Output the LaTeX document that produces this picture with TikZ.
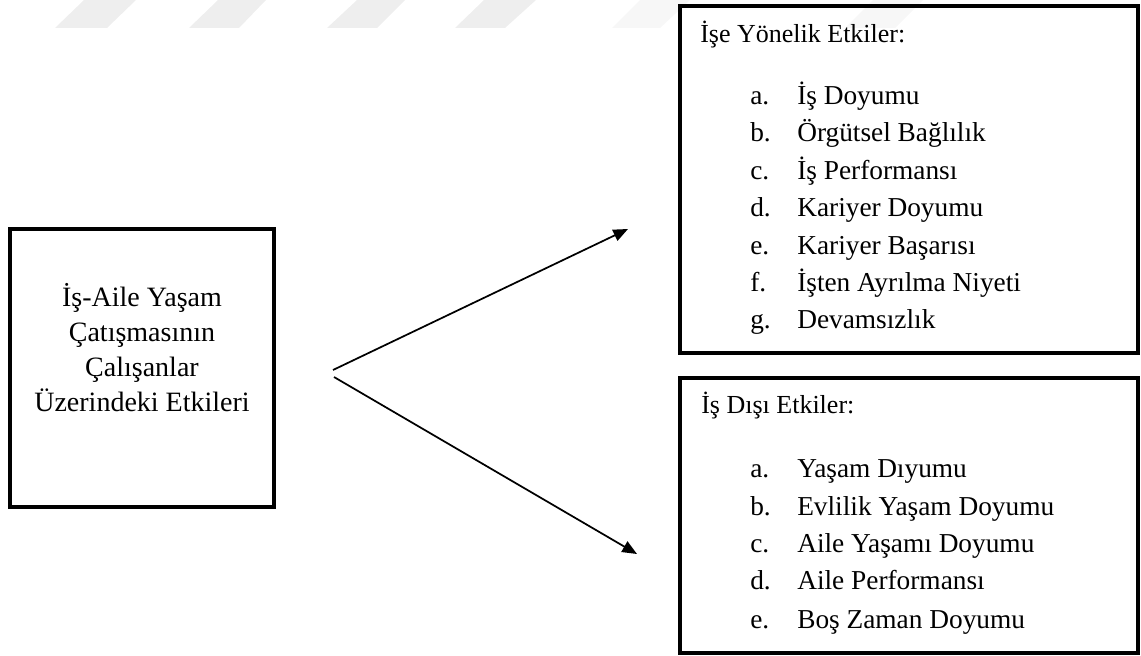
\documentclass[tikz,border=0pt]{standalone}
\usepackage{fontspec}
\setmainfont{Liberation Serif}
\usetikzlibrary{arrows.meta}
\definecolor{wm}{HTML}{EEEEEE}
\definecolor{wmfaint}{HTML}{F7F7F7}
\tikzset{
  box/.style={draw=black, line width=2.3pt, inner sep=0pt},
  srctxt/.style={anchor=base, inner sep=0pt, font=\fontsize{21}{25}\selectfont},
  headtxt/.style={anchor=base west, inner sep=0pt, font=\fontsize{19.5}{23}\selectfont},
  itemtxt/.style={anchor=base west, inner sep=0pt, font=\fontsize{20.5}{24}\selectfont},
  arr/.style={line width=1.3pt, -{Triangle[length=11pt,width=9pt]}},
  stripe/.style={fill=wm, draw=none},
  faintstripe/.style={fill=wmfaint, draw=none}
}
\begin{document}
\begin{tikzpicture}[x=0.75pt,y=-0.75pt]
\useasboundingbox (0,0) rectangle (1141,656);
% watermark stripes
\fill[stripe] (55,28) -- (107,28) -- (136,0) -- (84,0) -- cycle;
\fill[stripe] (189,28) -- (239,28) -- (266,0) -- (218,0) -- cycle;
\fill[stripe] (327,28) -- (377,28) -- (405,0) -- (357,0) -- cycle;
\fill[stripe] (455,28) -- (505,28) -- (536,0) -- (484,0) -- cycle;
\fill[faintstripe] (612,28) -- (660,28) -- (690,0) -- (640,0) -- cycle;
\fill[faintstripe] (845,28) -- (895,28) -- (923,0) -- (873,0) -- cycle;

% left box
\node[box, minimum width=198pt, minimum height=208.5pt] (src) at (142,368) {};
\node[srctxt] (src1) at (142,306) {İş-Aile Yaşam};
\node[srctxt] (src2) at (142,341) {Çatışmasının};
\node[srctxt] (src3) at (142,376) {Çalışanlar};
\node[srctxt] (src4) at (142,411) {Üzerindeki Etkileri};

% top right box
\node[box, minimum width=343.5pt, minimum height=260.25pt] (work) at (909,179.5) {};
\node[headtxt] (workh) at (700,43) {İşe Yönelik Etkiler:};
\node[itemtxt] (wa) at (750,105) {a.};
\node[itemtxt] (wat) at (797,105) {İş Doyumu};
\node[itemtxt] (wb) at (750,142) {b.};
\node[itemtxt] (wbt) at (797,142) {Örgütsel Bağlılık};
\node[itemtxt] (wc) at (750,179) {c.};
\node[itemtxt] (wct) at (797,179) {İş Performansı};
\node[itemtxt] (wd) at (750,216) {d.};
\node[itemtxt] (wdt) at (797,216) {Kariyer Doyumu};
\node[itemtxt] (we) at (750,254) {e.};
\node[itemtxt] (wet) at (797,254) {Kariyer Başarısı};
\node[itemtxt] (wf) at (750,291) {f.};
\node[itemtxt] (wft) at (797,291) {İşten Ayrılma Niyeti};
\node[itemtxt] (wg) at (750,328) {g.};
\node[itemtxt] (wgt) at (797,328) {Devamsızlık};

% bottom right box
\node[box, minimum width=343.5pt, minimum height=206.25pt] (nonwork) at (909,515.5) {};
\node[headtxt] (nonh) at (701,413) {İş Dışı Etkiler:};
\node[itemtxt] (na) at (750,477) {a.};
\node[itemtxt] (nat) at (797,477) {Yaşam Dıyumu};
\node[itemtxt] (nb) at (750,515) {b.};
\node[itemtxt] (nbt) at (797,515) {Evlilik Yaşam Doyumu};
\node[itemtxt] (nc) at (750,552) {c.};
\node[itemtxt] (nct) at (797,552) {Aile Yaşamı Doyumu};
\node[itemtxt] (nd) at (750,589) {d.};
\node[itemtxt] (ndt) at (797,589) {Aile Performansı};
\node[itemtxt] (ne) at (750,628) {e.};
\node[itemtxt] (net) at (797,628) {Boş Zaman Doyumu};

% arrows
\coordinate (s1) at (333,370);
\coordinate (t1) at (628,229);
\coordinate (s2) at (334,377);
\coordinate (t2) at (637,554);
\draw[arr] (s1) -- (t1);
\draw[arr] (s2) -- (t2);
\end{tikzpicture}
\end{document}
